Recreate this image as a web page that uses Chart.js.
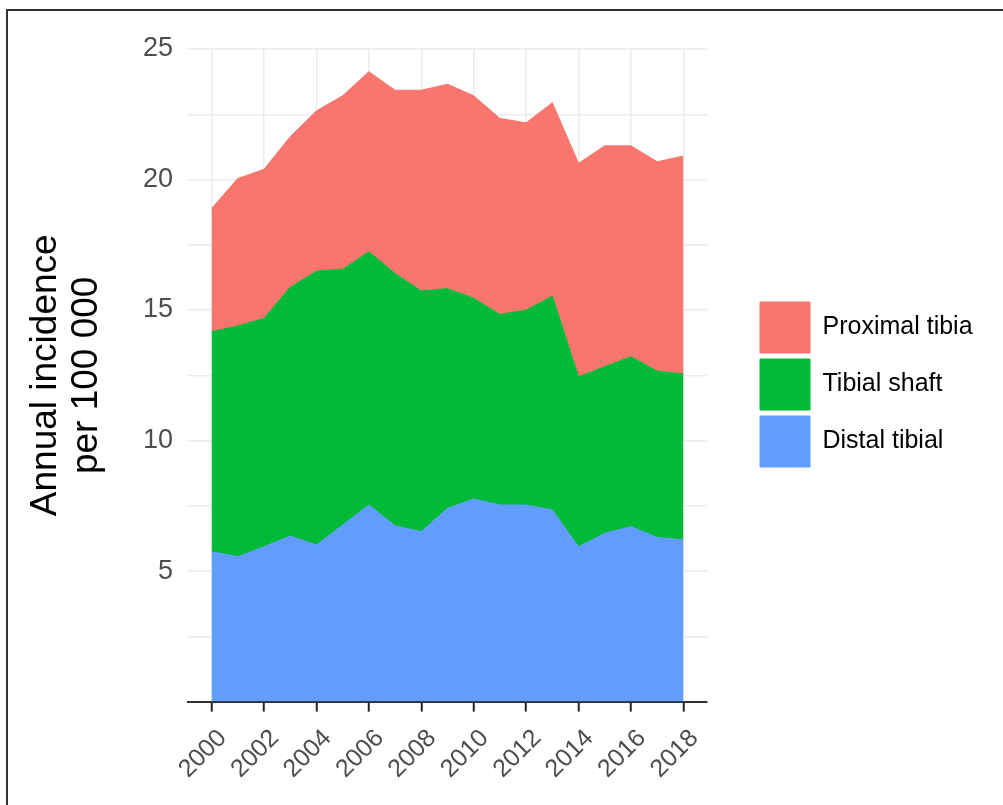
<!DOCTYPE html>
<html>
<head>
<meta charset="utf-8">
<script src="https://cdn.jsdelivr.net/npm/chart.js@4.4.1/dist/chart.umd.min.js"></script>
<style>
  html, body { margin: 0; padding: 0; background: #fff; overflow: hidden; width: 1003px; height: 805px; }
  #frame { position: absolute; left: 6px; top: 9px; width: 1200px; height: 1000px; border: 2px solid #333; box-sizing: border-box; pointer-events: none; }
  canvas { position: absolute; left: 0; top: 0; }
</style>
</head>
<body>
<canvas id="c" width="1003" height="805"></canvas>
<div id="frame"></div>
<script>
const years = [2000, 2001, 2002, 2003, 2004, 2005, 2006, 2007, 2008, 2009, 2010, 2011, 2012, 2013, 2014, 2015, 2016, 2017, 2018];
const tickYears = [2000, 2002, 2004, 2006, 2008, 2010, 2012, 2014, 2016, 2018];
const distalTibial = [5.74, 5.55, 5.93, 6.34, 6.00, 6.76, 7.53, 6.73, 6.51, 7.40, 7.76, 7.53, 7.53, 7.34, 5.93, 6.45, 6.70, 6.29, 6.19];
const tibialShaft = [8.43, 8.84, 8.75, 9.53, 10.49, 9.80, 9.70, 9.67, 9.22, 8.42, 7.69, 7.30, 7.47, 8.19, 6.51, 6.38, 6.51, 6.37, 6.36];
const proximalTibia = [4.72, 5.65, 5.71, 5.77, 6.14, 6.65, 6.90, 7.02, 7.69, 7.83, 7.76, 7.51, 7.17, 7.41, 8.18, 8.46, 8.08, 8.02, 8.35];
const seriesNames = ['Distal tibial', 'Tibial shaft', 'Proximal tibia'];
const seriesColors = ['#619CFF', '#00BA38', '#F8766D'];
const yTitle = ['Annual incidence', 'per 100 000'];

const FONT = '"Liberation Sans", Arial, sans-serif';
const legendFontSize = 25;

// layout targets (pixels)
const plotTop = 49, plotBottom = 701.6, plotLeft = 188, plotRight = 707;
const legendFirstBoxTop = 302;
const gapAxis = 47;
const xAxisBand = 100;

const mctx = document.createElement('canvas').getContext('2d');
mctx.font = legendFontSize + 'px ' + FONT;
const maxText = Math.max(...seriesNames.map(s => mctx.measureText(s).width));
const legendWidth = 6 + 50 + legendFontSize / 2 + maxText + 10;
const padRight = Math.max(0, 1003 - plotRight - gapAxis - legendWidth);

const toPts = arr => years.map((yr, i) => ({ x: yr, y: arr[i] }));
const seriesData = [distalTibial, tibialShaft, proximalTibia];

const datasets = seriesData.map((arr, i) => ({
  label: seriesNames[i],
  data: toPts(arr),
  backgroundColor: seriesColors[i],
  borderColor: seriesColors[i],
  borderWidth: 1,
  pointRadius: 0,
  tension: 0,
  fill: i === 0 ? 'origin' : '-1',
  xAxisID: 'x',
  yAxisID: 'y'
}));

const legendPlacer = {
  id: 'legendPlacer',
  afterLayout(chart) {
    const lg = chart.legend;
    if (!lg || !lg.columnSizes || !lg.columnSizes.length) return;
    const colH = lg.columnSizes[0].height;
    const pad = lg.options.labels.padding;
    const span = 2 * legendFirstBoxTop + colH - pad; // top + bottom
    const h = lg.bottom - lg.top;
    const top = (span - h) / 2;
    lg.top = top;
    lg.bottom = top + h;
  }
};

new Chart(document.getElementById('c'), {
  type: 'line',
  data: { datasets },
  plugins: [legendPlacer],
  options: {
    responsive: false,
    animation: false,
    devicePixelRatio: 1,
    layout: { padding: { left: 10, top: plotTop, bottom: 805 - plotBottom - xAxisBand, right: padRight } },
    plugins: {
      tooltip: { enabled: false },
      legend: {
        position: 'right',
        reverse: true,
        maxWidth: 400,
        labels: {
          boxWidth: 50,
          boxHeight: 51,
          padding: 6,
          color: '#000',
          font: { family: FONT, size: legendFontSize }
        }
      }
    },
    scales: {
      x: {
        type: 'linear',
        min: 1999.1,
        max: 2018.9,
        afterBuildTicks: s => { s.ticks = tickYears.map(v => ({ value: v })); },
        afterFit: s => { s.height = xAxisBand; },
        grid: { color: '#ebebeb', lineWidth: 1.5, drawTicks: true, tickLength: 10, tickWidth: 2, tickColor: '#222' },
        border: { display: true, color: '#333', width: 2 },
        ticks: {
          autoSkip: false,
          minRotation: 45,
          maxRotation: 45,
          padding: 12,
          labelOffset: 11,
          color: '#4d4d4d',
          font: { family: FONT, size: 25 },
          callback: v => String(v)
        }
      },
      y: {
        stacked: true,
        min: 0,
        max: 25,
        position: 'left',
        afterFit: s => { s.width = plotLeft - 10; },
        grid: { color: '#ebebeb', lineWidth: 1.5, drawTicks: false },
        border: { display: false },
        ticks: {
          stepSize: 2.5,
          padding: 15,
          color: '#4d4d4d',
          font: { family: FONT, size: 27 },
          callback: v => (v % 5 === 0 && v !== 0) ? String(v) : ''
        },
        title: {
          display: true,
          text: yTitle,
          color: '#000',
          padding: { top: 15.5, bottom: 0 },
          font: { family: FONT, size: 37, lineHeight: 1.1 }
        }
      },
      yR: {
        position: 'right',
        display: true,
        afterFit: s => { s.width = gapAxis; },
        grid: { display: false },
        border: { display: false },
        ticks: { display: false }
      }
    }
  }
});
</script>
</body>
</html>
